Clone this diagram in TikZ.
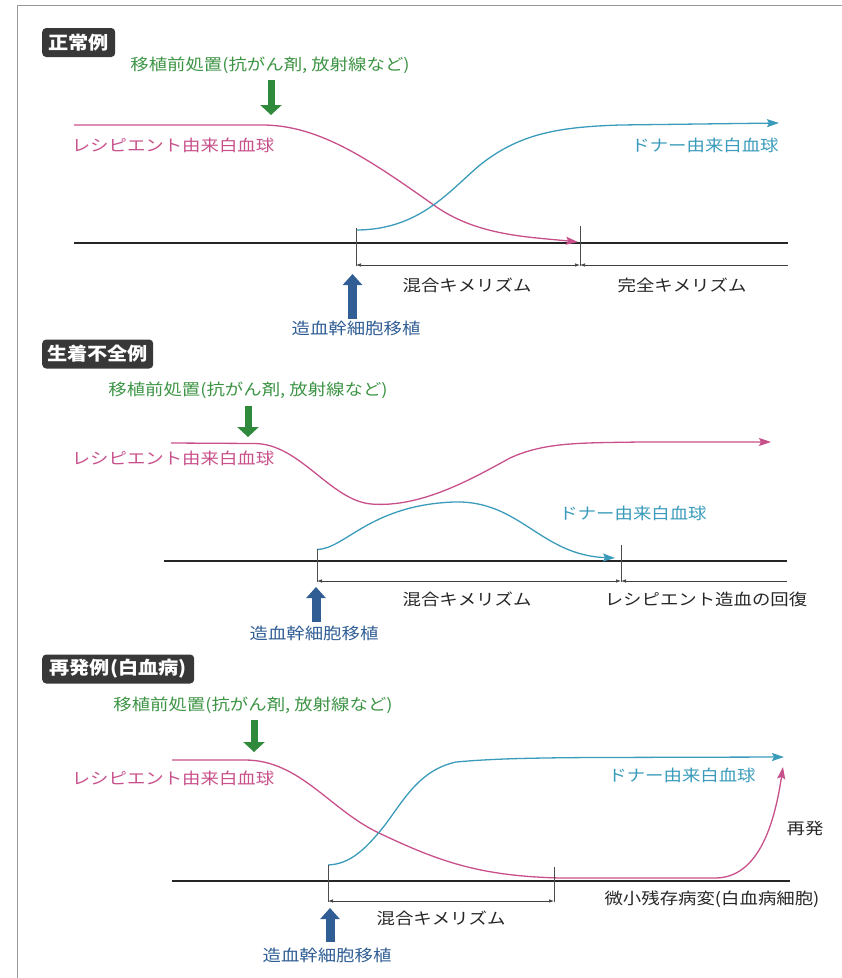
\documentclass[tikz,border=0pt]{standalone}
\usepackage{fontspec}
\setmainfont{Noto Sans CJK JP}
\usetikzlibrary{arrows.meta}
\definecolor{mg}{HTML}{C8508A}
\definecolor{tl}{HTML}{3A9BBB}
\definecolor{grn}{HTML}{2F8A3C}
\definecolor{grt}{HTML}{3D9445}
\definecolor{blu}{HTML}{2F5D94}
\definecolor{txt}{HTML}{262626}
\newcommand{\wt}[1]{\scalebox{1.15}[1]{#1}}
\newcommand{\wtt}[1]{\scalebox{1.12}[1]{#1}}
\begin{document}
\begin{tikzpicture}[x=1pt,y=-1pt,
  lbl/.style={inner sep=0pt, anchor=center, font=\fontsize{16}{18}\selectfont},
  ttl/.style={anchor=west, fill=black!78, rounded corners=4pt, text=white, inner sep=0pt,
    minimum height=29pt, font=\fontsize{18}{20}\selectfont\bfseries},
  garrow/.style={grn, line width=7pt, -{Triangle[length=10pt,width=21pt]}},
  barrow/.style={blu, line width=9pt, -{Triangle[length=11pt,width=19pt]}},
  rcurve/.style={mg, line width=1.3pt, line join=round, -{Stealth[length=12pt,width=8pt,inset=2pt]}},
  dcurve/.style={tl, line width=1.3pt, line join=round, -{Stealth[length=12pt,width=8pt,inset=2pt]}},
  base/.style={black!85, line width=1.5pt},
  tick/.style={black!70, line width=0.6pt},
  dim/.style={black!75, line width=0.7pt}
]
\useasboundingbox (0,0) rectangle (842,978);
% frame
\draw[black!40, line width=0.9pt] (17,978) -- (17,5) -- (842,5);

%================ Panel 1 ================
\node[ttl, minimum width=73pt] (t1) at (42,42.5) {\wtt{正常例}};
\node[lbl, text=grt] (g1lab) at (270,65) {\wt{移植前処置(抗がん剤, 放射線など)}};
\coordinate (g1a) at (271,80); \coordinate (g1b) at (271,115);
\draw[garrow] (g1a) -- (g1b);
\coordinate (b1s) at (74,243); \coordinate (b1e) at (788,243);
\draw[base] (b1s) -- (b1e);
\draw[rcurve] (74,125) -- (262,125) .. controls (320,125) and (370,160) .. (438,208)
   .. controls (480,236) and (530,237) .. (578,242);
\draw[dcurve] (356,230) .. controls (420,230) and (450,190) .. (480,165)
   .. controls (520,133) and (560,127) .. (620,125) -- (779,123);
\node[lbl, text=mg] (r1lab) at (173,145) {\wt{レシピエント由来白血球}};
\node[lbl, text=tl] (d1lab) at (705,145) {\wt{ドナー由来白血球}};
\coordinate (k1at) at (356,228); \coordinate (k1ab) at (356,266);
\coordinate (k1bt) at (580,226); \coordinate (k1bb) at (580,266);
\draw[tick] (k1at) -- (k1ab);
\draw[tick] (k1bt) -- (k1bb);
\coordinate (m1a) at (356,265); \coordinate (m1b) at (580,265); \coordinate (m1c) at (788,265);
\draw[dim, {Latex[length=5pt,width=3.5pt]}-{Latex[length=5pt,width=3.5pt]}] (m1a) -- (m1b);
\draw[dim, {Latex[length=5pt,width=3.5pt]}-] (m1b) -- (m1c);
\node[lbl, text=txt] (mix1) at (467,285) {\wt{混合キメリズム}};
\node[lbl, text=txt] (full1) at (682,285) {\wt{完全キメリズム}};
\coordinate (s1a) at (352.5,319); \coordinate (s1b) at (352.5,274);
\draw[barrow] (s1a) -- (s1b);
\node[lbl, text=blu] (h1lab) at (356,328) {\wt{造血幹細胞移植}};

%================ Panel 2 ================
\node[ttl, minimum width=111pt] (t2) at (42,354) {\wtt{生着不全例}};
\node[lbl, text=grt] (g2lab) at (248,390) {\wt{移植前処置(抗がん剤, 放射線など)}};
\coordinate (g2a) at (248,406); \coordinate (g2b) at (248,437);
\draw[garrow] (g2a) -- (g2b);
\coordinate (b2s) at (164,561); \coordinate (b2e) at (787,561);
\draw[base] (b2s) -- (b2e);
\draw[rcurve] (171,443) -- (255,443.5) .. controls (300,444) and (330,500) .. (371,504)
   .. controls (420,508) and (470,480) .. (510,458)
   .. controls (545,442) and (580,443) .. (640,442) -- (771,442);
\draw[dcurve] (317,549.5) .. controls (345,549) and (370,505) .. (454,502)
   .. controls (520,500) and (540,555) .. (615,558);
\node[lbl, text=mg] (r2lab) at (173,458) {\wt{レシピエント由来白血球}};
\node[lbl, text=tl] (d2lab) at (633,513) {\wt{ドナー由来白血球}};
\coordinate (k2at) at (317,549); \coordinate (k2ab) at (317,582);
\coordinate (k2bt) at (621,545); \coordinate (k2bb) at (621,582);
\draw[tick] (k2at) -- (k2ab);
\draw[tick] (k2bt) -- (k2bb);
\coordinate (m2a) at (317,581); \coordinate (m2b) at (621,581); \coordinate (m2c) at (787,581);
\draw[dim, {Latex[length=5pt,width=3.5pt]}-{Latex[length=5pt,width=3.5pt]}] (m2a) -- (m2b);
\draw[dim, {Latex[length=5pt,width=3.5pt]}-] (m2b) -- (m2c);
\node[lbl, text=txt] (mix2) at (467,599) {\wt{混合キメリズム}};
\node[lbl, text=txt] (rec2) at (706,599) {\wt{レシピエント造血の回復}};
\coordinate (s2a) at (316,622); \coordinate (s2b) at (316,587);
\draw[barrow] (s2a) -- (s2b);
\node[lbl, text=blu] (h2lab) at (314,633) {\wt{造血幹細胞移植}};

%================ Panel 3 ================
\node[ttl, minimum width=152pt] (t3) at (42,669) {\wtt{再発例(白血病)}};
\node[lbl, text=grt] (g3lab) at (253,705) {\wt{移植前処置(抗がん剤, 放射線など)}};
\coordinate (g3a) at (254,720); \coordinate (g3b) at (254,752);
\draw[garrow] (g3a) -- (g3b);
\coordinate (b3s) at (172,881); \coordinate (b3e) at (790,881);
\draw[base] (b3s) -- (b3e);
\draw[rcurve] (172,760) -- (245,760) .. controls (300,760) and (330,810) .. (379,833)
   .. controls (440,862) and (480,876) .. (560,878) -- (715,878)
   .. controls (760,878) and (775,820) .. (783,767);
\draw[dcurve] (328,865) .. controls (350,864) and (365,850) .. (385,825)
   .. controls (405,798) and (420,770) .. (456,762)
   .. controls (490,759) and (520,758) .. (591,757.5) -- (784,757);
\node[lbl, text=mg] (r3lab) at (173,778) {\wt{レシピエント由来白血球}};
\node[lbl, text=tl] (d3lab) at (682,775) {\wt{ドナー由来白血球}};
\node[lbl, text=txt] (rel3) at (805,828) {\wt{再発}};
\coordinate (k3at) at (328,865); \coordinate (k3ab) at (328,902);
\coordinate (k3bt) at (554,867); \coordinate (k3bb) at (554,902);
\draw[tick] (k3at) -- (k3ab);
\draw[tick] (k3bt) -- (k3bb);
\coordinate (m3a) at (328,901); \coordinate (m3b) at (554,901);
\draw[dim, {Latex[length=5pt,width=3.5pt]}-{Latex[length=5pt,width=3.5pt]}] (m3a) -- (m3b);
\node[lbl, text=txt] (mrd3) at (712,899) {\wt{微小残存病変(白血病細胞)}};
\node[lbl, text=txt] (mix3) at (441,918) {\wt{混合キメリズム}};
\coordinate (s3a) at (330,942); \coordinate (s3b) at (330,908);
\draw[barrow] (s3a) -- (s3b);
\node[lbl, text=blu] (h3lab) at (327,955) {\wt{造血幹細胞移植}};
\end{tikzpicture}
\end{document}
